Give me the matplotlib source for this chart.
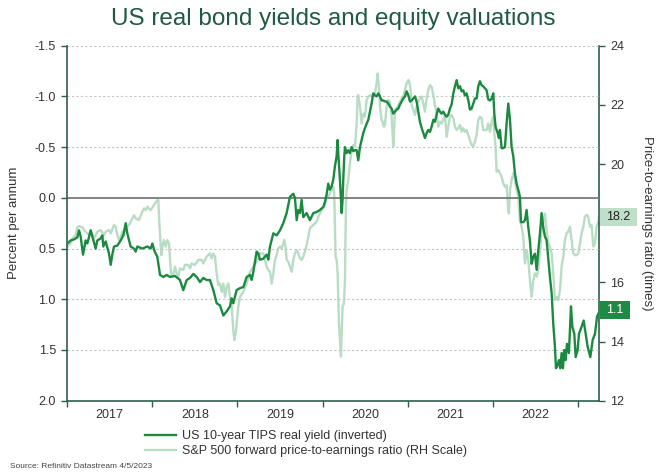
import numpy as np
import matplotlib
matplotlib.use("Agg")
import matplotlib.pyplot as plt
from matplotlib.patches import Rectangle
from matplotlib.transforms import blended_transform_factory as blend
from matplotlib.ticker import FormatStrFormatter, FixedLocator

plt.rcParams['font.family'] = ['Liberation Sans', 'DejaVu Sans']

# Data (decimal years) #################################################
tips_t = [2017.004, 2017.043, 2017.082, 2017.121, 2017.141, 2017.160, 2017.188, 2017.219, 2017.239, 2017.278,
          2017.297, 2017.336, 2017.356, 2017.395, 2017.415, 2017.426, 2017.454, 2017.493, 2017.513, 2017.532,
          2017.552, 2017.591, 2017.630, 2017.661, 2017.689, 2017.708, 2017.747, 2017.786, 2017.806, 2017.826,
          2017.884, 2017.943, 2017.982, 2018.002, 2018.029, 2018.060,
          2018.092, 2018.131, 2018.170, 2018.209, 2018.268, 2018.326, 2018.365, 2018.405, 2018.444, 2018.483,
          2018.522, 2018.561, 2018.600, 2018.639, 2018.678, 2018.718, 2018.757, 2018.796, 2018.835, 2018.874,
          2018.913, 2018.933, 2018.952, 2018.991, 2019.031, 2019.070, 2019.109, 2019.148, 2019.167, 2019.187,
          2019.226, 2019.246, 2019.265, 2019.304, 2019.344, 2019.363, 2019.383, 2019.422, 2019.461, 2019.500,
          2019.539, 2019.578, 2019.617, 2019.656, 2019.676, 2019.696, 2019.715, 2019.735, 2019.754, 2019.774,
          2019.813, 2019.852, 2019.891, 2019.930, 2019.969, 2020.009,
          2020.028, 2020.047, 2020.067, 2020.086, 2020.106, 2020.126, 2020.145, 2020.165, 2020.177, 2020.184,
          2020.204, 2020.224, 2020.235, 2020.243, 2020.255, 2020.263, 2020.282, 2020.302, 2020.321, 2020.341,
          2020.360, 2020.380, 2020.400, 2020.419, 2020.439, 2020.458, 2020.478, 2020.498, 2020.517, 2020.537,
          2020.556, 2020.576, 2020.595, 2020.615, 2020.635, 2020.654, 2020.674, 2020.693, 2020.713, 2020.733,
          2020.752, 2020.772, 2020.791, 2020.811, 2020.830, 2020.850, 2020.870, 2020.889, 2020.909, 2020.928,
          2020.948, 2020.967, 2020.987, 2021.007, 2021.026, 2021.046, 2021.065, 2021.085, 2021.104, 2021.124,
          2021.143, 2021.163, 2021.182, 2021.202, 2021.222, 2021.241, 2021.261, 2021.280, 2021.300, 2021.319,
          2021.339, 2021.358, 2021.378, 2021.398, 2021.417, 2021.437, 2021.456, 2021.476, 2021.495, 2021.515,
          2021.535, 2021.554, 2021.574, 2021.593, 2021.613, 2021.632, 2021.652, 2021.671, 2021.691, 2021.711,
          2021.730, 2021.750, 2021.769, 2021.789, 2021.808, 2021.828, 2021.847, 2021.867, 2021.886,
          2021.906, 2021.926, 2021.945, 2021.965, 2021.985, 2022.004, 2022.016, 2022.031, 2022.055, 2022.070,
          2022.082, 2022.102, 2022.121, 2022.141, 2022.160, 2022.180, 2022.200, 2022.219, 2022.239, 2022.258,
          2022.278, 2022.297, 2022.317, 2022.329, 2022.356, 2022.376, 2022.395, 2022.415, 2022.434, 2022.454,
          2022.474, 2022.493, 2022.513, 2022.532, 2022.552, 2022.571, 2022.591, 2022.610, 2022.630, 2022.650,
          2022.669, 2022.689, 2022.708, 2022.728, 2022.740, 2022.759, 2022.775, 2022.791, 2022.806, 2022.822,
          2022.837, 2022.853, 2022.869, 2022.892, 2022.916, 2022.932, 2022.955, 2022.971, 2022.994, 2023.010,
          2023.041, 2023.065, 2023.088, 2023.112, 2023.143, 2023.171, 2023.198, 2023.222, 2023.245]
tips_v = [0.45, 0.42, 0.41, 0.39, 0.32, 0.38, 0.56, 0.42, 0.45, 0.32,
          0.38, 0.50, 0.42, 0.40, 0.37, 0.48, 0.43, 0.55, 0.66, 0.56,
          0.48, 0.47, 0.42, 0.37, 0.25, 0.35, 0.48, 0.50, 0.53, 0.48,
          0.50, 0.48, 0.50, 0.45, 0.53, 0.58,
          0.76, 0.78, 0.76, 0.78, 0.77, 0.81, 0.91, 0.81, 0.79, 0.75,
          0.78, 0.83, 0.79, 0.81, 0.81, 0.91, 1.04, 1.06, 1.16, 1.12,
          1.07, 0.99, 1.04, 0.91, 0.89, 0.88, 0.78, 0.76, 0.81, 0.73,
          0.53, 0.55, 0.61, 0.60, 0.56, 0.61, 0.48, 0.35, 0.37, 0.32,
          0.25, 0.15, -0.01, -0.04, 0.00, 0.22, 0.12, 0.15, 0.02, 0.19,
          0.15, 0.22, 0.15, 0.14, 0.12, 0.09,
          0.04, -0.03, -0.14, -0.08, -0.11, -0.18, -0.31, -0.41, -0.57, -0.44,
          -0.18, 0.15, 0.02, -0.18, -0.41, -0.50, -0.44, -0.47, -0.44, -0.50,
          -0.46, -0.47, -0.47, -0.37, -0.50, -0.57, -0.64, -0.69, -0.73, -0.77,
          -0.85, -0.93, -1.03, -1.01, -1.00, -1.03, -1.00, -0.96, -0.96, -0.95,
          -0.95, -0.93, -0.90, -0.88, -0.83, -0.85, -0.87, -0.88, -0.92, -0.95,
          -0.98, -1.00, -1.05, -1.01, -0.95, -0.96, -0.98, -1.00, -0.95, -0.85,
          -0.75, -0.69, -0.64, -0.59, -0.64, -0.67, -0.65, -0.70, -0.77, -0.75,
          -0.82, -0.88, -0.85, -0.83, -0.85, -0.82, -0.80, -0.82, -0.88, -0.92,
          -1.03, -1.10, -1.16, -1.08, -1.10, -1.05, -1.06, -1.01, -1.03, -0.96,
          -0.87, -0.88, -0.93, -0.98, -0.98, -1.10, -1.15, -1.11, -1.10,
          -1.08, -1.06, -0.97, -0.96, -0.98, -1.03, -0.83, -0.70, -0.64, -0.59,
          -0.67, -0.49, -0.49, -0.50, -0.73, -0.93, -0.77, -0.50, -0.41, -0.24,
          -0.14, -0.08, -0.01, 0.24, 0.24, 0.22, 0.12, 0.29, 0.42, 0.65,
          0.58, 0.55, 0.71, 0.52, 0.35, 0.15, 0.29, 0.38, 0.42, 0.61,
          0.78, 0.94, 1.24, 1.47, 1.68, 1.65, 1.60, 1.68, 1.53, 1.68,
          1.50, 1.60, 1.44, 1.53, 1.07, 1.27, 1.34, 1.57, 1.50, 1.34,
          1.27, 1.21, 1.34, 1.47, 1.57, 1.40, 1.34, 1.17, 1.13]

pe_t = [2017.004, 2017.043, 2017.063, 2017.102, 2017.121, 2017.141, 2017.180, 2017.219, 2017.258, 2017.278,
        2017.317, 2017.356, 2017.395, 2017.434, 2017.454, 2017.493, 2017.513, 2017.552, 2017.571, 2017.591,
        2017.610, 2017.630, 2017.649, 2017.669, 2017.689, 2017.728, 2017.747, 2017.786, 2017.806, 2017.845,
        2017.884, 2017.904, 2017.923, 2017.943, 2017.982, 2018.021, 2018.060, 2018.072, 2018.084, 2018.099,
        2018.107, 2018.123, 2018.138, 2018.158, 2018.178, 2018.197,
        2018.221, 2018.240, 2018.268, 2018.287, 2018.307, 2018.326, 2018.365, 2018.385, 2018.424, 2018.444,
        2018.463, 2018.502, 2018.541, 2018.581, 2018.600, 2018.639, 2018.678, 2018.698, 2018.718, 2018.737,
        2018.757, 2018.776, 2018.796, 2018.815, 2018.835, 2018.855, 2018.874, 2018.894, 2018.913, 2018.933,
        2018.952, 2018.964, 2018.980, 2018.991, 2019.011, 2019.031, 2019.070, 2019.109, 2019.148, 2019.187,
        2019.226, 2019.265, 2019.304, 2019.324, 2019.344, 2019.363, 2019.383, 2019.402, 2019.422, 2019.441,
        2019.461,
        2019.480, 2019.500, 2019.520, 2019.539, 2019.551, 2019.567, 2019.579, 2019.598, 2019.618, 2019.637,
        2019.657, 2019.676, 2019.696, 2019.715, 2019.735, 2019.754, 2019.774, 2019.793, 2019.813, 2019.833,
        2019.852, 2019.891, 2019.930, 2019.950, 2019.969, 2019.989, 2020.009, 2020.028, 2020.047, 2020.067,
        2020.086, 2020.106, 2020.126, 2020.137, 2020.145, 2020.153, 2020.165, 2020.177, 2020.192, 2020.204,
        2020.216, 2020.224, 2020.235, 2020.251, 2020.263, 2020.274, 2020.282, 2020.302, 2020.321, 2020.341,
        2020.360, 2020.380, 2020.400, 2020.411, 2020.419, 2020.439, 2020.458, 2020.478, 2020.498, 2020.517,
        2020.537, 2020.556, 2020.576, 2020.615, 2020.635, 2020.646, 2020.662, 2020.674, 2020.693,
        2020.705, 2020.720, 2020.732, 2020.752, 2020.772, 2020.791, 2020.811, 2020.822, 2020.830, 2020.842,
        2020.850, 2020.870, 2020.889, 2020.909, 2020.928, 2020.948, 2020.967, 2020.987, 2021.007, 2021.018,
        2021.034, 2021.046, 2021.065, 2021.085, 2021.104, 2021.124, 2021.143, 2021.163, 2021.182, 2021.202,
        2021.222, 2021.241, 2021.261, 2021.280, 2021.300, 2021.319, 2021.339, 2021.358, 2021.378, 2021.398,
        2021.417, 2021.437, 2021.456, 2021.476, 2021.495, 2021.515, 2021.535, 2021.554, 2021.574, 2021.593,
        2021.613, 2021.632, 2021.652, 2021.671, 2021.691, 2021.711, 2021.730, 2021.750, 2021.769, 2021.789,
        2021.808, 2021.828, 2021.847, 2021.867, 2021.886,
        2021.926, 2021.945, 2021.965, 2021.985, 2022.004, 2022.016, 2022.031, 2022.043, 2022.063, 2022.082,
        2022.102, 2022.121, 2022.141, 2022.160, 2022.180, 2022.188, 2022.200, 2022.219, 2022.239, 2022.258,
        2022.278, 2022.297, 2022.317, 2022.337, 2022.356, 2022.376, 2022.395, 2022.415, 2022.434, 2022.454,
        2022.474, 2022.493, 2022.513, 2022.532, 2022.552, 2022.571, 2022.591, 2022.610, 2022.630, 2022.650,
        2022.669, 2022.689, 2022.708, 2022.728, 2022.747, 2022.767, 2022.787, 2022.806, 2022.826, 2022.845,
        2022.865, 2022.884, 2022.904, 2022.924, 2022.943, 2022.963, 2022.982, 2023.002, 2023.022, 2023.041,
        2023.061, 2023.080, 2023.100, 2023.119, 2023.139, 2023.158, 2023.178, 2023.198, 2023.217, 2023.237,
        2023.245]
pe_v = [17.21, 17.32, 17.49, 17.60, 17.86, 17.90, 17.86, 17.71, 17.60, 17.75,
        17.49, 17.71, 17.77, 17.60, 17.71, 17.77, 17.66, 17.94, 17.88, 17.60,
        17.43, 17.54, 17.71, 17.60, 17.86, 17.94, 18.05, 18.27, 18.16, 18.11,
        18.39, 18.50, 18.44, 18.56, 18.44, 18.61, 18.78, 18.78, 17.99, 17.32,
        16.92, 17.26, 17.43, 17.21, 17.43, 17.32,
        16.30, 16.19, 16.53, 16.30, 16.19, 16.47, 16.42, 16.59, 16.59, 16.47,
        16.64, 16.59, 16.76, 16.76, 16.64, 16.87, 16.98, 16.81, 16.98, 16.87,
        16.30, 15.91, 15.96, 15.68, 15.96, 15.51, 15.85, 15.96, 15.51, 15.18,
        14.39, 14.05, 14.27, 14.61, 15.18, 15.51, 15.68, 15.96, 16.36, 16.53,
        16.70, 16.98, 16.98, 16.76, 16.53, 16.42, 16.36, 15.96, 16.30, 16.76,
        16.92,
        17.15, 17.21, 17.15, 17.32, 17.43, 17.15, 16.76, 16.70, 16.53, 16.36,
        16.76, 16.98, 17.09, 16.98, 16.81, 16.76, 16.87, 17.04, 17.26, 17.54,
        17.83, 17.94, 18.05, 18.22, 18.33, 18.44, 18.56, 18.61, 18.90, 18.90,
        19.01, 19.12, 19.23, 19.01, 18.00, 16.87, 16.76, 16.31, 14.62, 14.05,
        13.49, 14.28, 15.18, 15.29, 16.08, 18.56, 19.12, 19.46, 20.02, 20.47,
        20.64, 20.59, 21.37, 22.28, 22.33, 21.94, 21.37, 21.71, 21.60, 22.16,
        22.28, 22.33, 22.28, 22.39, 22.73, 23.06, 22.61, 21.94, 21.49,
        21.43, 21.26, 21.32, 21.94, 22.16, 22.11, 21.60, 21.04, 20.59, 21.26,
        21.83, 21.88, 21.99, 22.11, 22.22, 22.28, 22.50, 22.73, 22.84, 22.78,
        22.50, 21.99, 21.83, 21.66, 21.94, 22.11, 22.22, 22.28, 22.05, 21.77,
        22.22, 22.50, 22.67, 22.61, 22.33, 21.99, 21.71, 21.26, 21.43, 21.37,
        21.49, 21.66, 20.92, 21.26, 21.60, 21.66, 21.54, 21.26, 21.15, 21.21,
        21.32, 21.09, 21.21, 21.09, 21.15, 20.98, 20.81, 20.64, 20.59, 20.76,
        20.98, 21.49, 21.60, 21.54, 21.15,
        21.15, 21.37, 21.09, 21.43, 21.60, 21.04, 20.59, 19.74, 19.80, 19.69,
        19.57, 19.35, 19.23, 19.29, 18.44, 18.33, 19.12, 19.46, 19.69, 19.46,
        19.12, 18.90, 18.11, 17.88, 17.54, 16.64, 17.09, 16.76, 16.08, 15.51,
        16.08, 16.31, 16.19, 16.42, 16.98, 17.77, 18.05, 18.33, 17.77, 17.32,
        17.21, 16.98, 16.31, 15.40, 15.51, 15.40, 15.74, 16.53, 16.87, 17.43,
        17.66, 17.71, 17.88, 17.43, 16.98, 16.92, 16.92, 16.98, 17.32, 17.66,
        17.88, 18.22, 18.28, 18.22, 17.88, 17.94, 17.21, 17.32, 17.88, 18.05,
        18.20]

left_ticks = [-1.5, -1.0, -0.5, 0.0, 0.5, 1.0, 1.5, 2.0]
right_ticks = [12, 14, 16, 18, 20, 22, 24]
right_labels = ['12', '14', '16', '', '20', '22', '24']   # 18 sits under the 18.2 box
years = [2017, 2018, 2019, 2020, 2021, 2022]
last_tips, last_pe = "1.1", "18.2"

dark = '#1b8a40'
light = '#b9dcc5'
spine = '#2f5d4d'
txt = '#333333'

# Figure ################################################################
fig = plt.figure(figsize=(6.66, 4.73), dpi=100)
ax = fig.add_axes([67/666, 1-400.7/473, 532/666, 355/473])
ax2 = ax.twinx()
ax.set_zorder(2)
ax.patch.set_visible(False)
ax2.set_zorder(1)

for v in left_ticks[:-1]:
    if v == 0:
        ax.axhline(v, color='#7a7a7a', lw=1.3, zorder=1)
    else:
        ax.axhline(v, color='#c4c4c4', lw=0.8, ls=(0, (2, 2)), zorder=1)

ax2.plot(pe_t, pe_v, color=light, lw=1.7, solid_joinstyle='round')
ax.plot(tips_t, tips_v, color=dark, lw=1.7, solid_joinstyle='round', zorder=3)

ax.set_xlim(2017.0, 2023.245)
ax.set_ylim(2.0, -1.5)
ax2.set_ylim(12, 24)
ax.set_yticks(left_ticks)
ax.yaxis.set_major_formatter(FormatStrFormatter('%.1f'))
ax2.set_yticks(right_ticks)
ax2.set_yticklabels(right_labels)

ax.xaxis.set_major_locator(FixedLocator(years + [2023]))
ax.xaxis.set_minor_locator(FixedLocator([y + 0.5 for y in years]))
ax.set_xticklabels([])
ax.set_xticklabels([str(y) for y in years], minor=True)
ax.tick_params(axis='x', which='minor', length=0, pad=6, labelsize=9, labelcolor=txt)
ax.tick_params(axis='x', which='major', length=4, color=spine, width=1)
ax.tick_params(axis='y', length=4, color=spine, width=1, labelsize=9, labelcolor=txt, pad=4)
ax2.tick_params(axis='y', length=4, color=spine, width=1, labelsize=9, labelcolor=txt, pad=4)

for a in (ax, ax2):
    a.spines['top'].set_visible(False)
ax.spines['right'].set_visible(False)
ax2.spines['left'].set_visible(False)
ax2.spines['bottom'].set_visible(False)
for s in (ax.spines['left'], ax.spines['bottom'], ax2.spines['right']):
    s.set_color(spine)
    s.set_linewidth(1.2)

ax.set_ylabel('Percent per annum', fontsize=9.5, color=txt)
ax.yaxis.set_label_coords(-0.088, 0.5)
ax2.set_ylabel('Price-to-earnings ratio (times)', fontsize=9.5, color=txt, rotation=270, va='center')
ax2.yaxis.set_label_coords(1.090, 0.5)

# last value boxes
tr2 = blend(ax2.transAxes, ax2.transData)
ax2.add_patch(Rectangle((1.002, float(last_pe) - 0.31), 37/532, 0.62, transform=tr2,
                        fc='#bfdfca', ec='none', clip_on=False, zorder=5))
ax2.text(1.002 + 18.5/532, float(last_pe), last_pe, transform=tr2, ha='center', va='center',
         fontsize=9, color='#222222', zorder=6, clip_on=False)
tr1 = blend(ax.transAxes, ax.transData)
ax.add_patch(Rectangle((1.002, 1.106 - 0.09), 30/532, 0.18, transform=tr1,
                       fc='#1f8a44', ec='none', clip_on=False, zorder=5))
ax.text(1.002 + 15/532, 1.106, last_tips, transform=tr1, ha='center', va='center',
        fontsize=9, color='white', zorder=6, clip_on=False)

fig.text(0.5, 1-19/473, 'US real bond yields and equity valuations', ha='center', va='center',
         fontsize=17.5, color='#1f5a41')

h1, = ax.plot([], [], color=dark, lw=1.7)
h2, = ax.plot([], [], color=light, lw=1.7)
fig.legend([h1, h2], ['US 10-year TIPS real yield (inverted)',
                      'S&P 500 forward price-to-earnings ratio (RH Scale)'],
           loc='upper left', bbox_to_anchor=(145/666, 1-430/473), frameon=False, fontsize=9,
           handlelength=2.5, handletextpad=0.5, labelspacing=0.25, borderaxespad=0, borderpad=0,
           labelcolor=txt)

fig.text(10/666, 1-466/473, 'Source: Refinitiv Datastream 4/5/2023', fontsize=6, color='#444444', va='center')

fig.savefig('out.png', dpi=100)
